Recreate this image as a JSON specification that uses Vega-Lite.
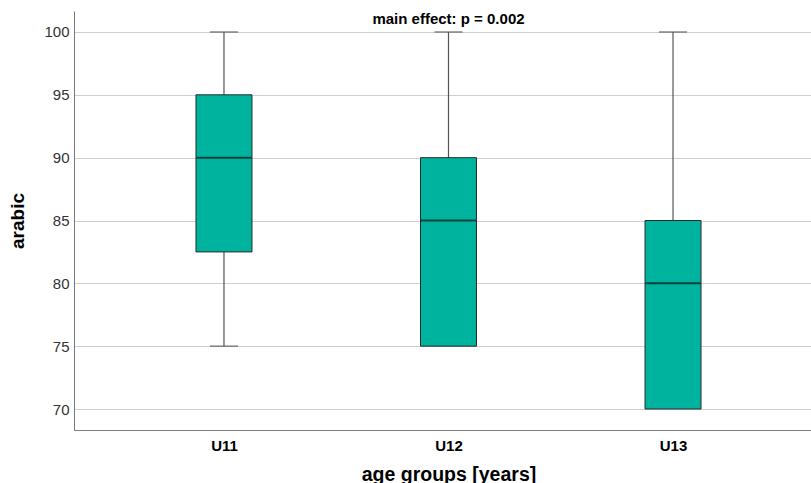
{
  "$schema": "https://vega.github.io/schema/vega-lite/v6.json",
  "autosize": "none",
  "width": 749,
  "height": 419,
  "padding": {"left": 74, "top": 11, "right": 0, "bottom": 53},
  "background": "white",
  "config": {
    "view": {"stroke": null},
    "font": "Liberation Sans"
  },
  "data": {
    "values": [
      {"group": "U11", "lower": 75, "q1": 82.5, "median": 90, "q3": 95, "upper": 100},
      {"group": "U12", "lower": 75, "q1": 75, "median": 85, "q3": 90, "upper": 100},
      {"group": "U13", "lower": 70, "q1": 70, "median": 80, "q3": 85, "upper": 100}
    ]
  },
  "encoding": {
    "x": {
      "field": "group", "type": "nominal",
      "scale": {"type": "point", "padding": 0.668},
      "axis": {
        "title": "age groups [years]",
        "titleFont": "Liberation Sans", "titleFontSize": 19.5, "titleFontWeight": "bold", "titleColor": "#000",
        "titlePadding": 12,
        "labelAngle": 0, "labelFont": "Liberation Sans", "labelFontSize": 15, "labelFontWeight": "bold", "labelColor": "#000",
        "labelPadding": 8,
        "ticks": false, "domain": true, "domainColor": "#808080", "domainWidth": 1, "grid": false
      }
    }
  },
  "layer": [
    {
      "mark": {"type": "rule", "color": "#555555", "strokeWidth": 1.2},
      "encoding": {
        "y": {
          "field": "lower", "type": "quantitative",
          "scale": {"domain": [68.33, 101.67], "nice": false, "zero": false},
          "axis": {
            "title": "arabic",
            "titleFont": "Liberation Sans", "titleFontSize": 19, "titleFontWeight": "bold", "titleColor": "#000",
            "titlePadding": 16,
            "values": [70, 75, 80, 85, 90, 95, 100],
            "labelFont": "Liberation Sans", "labelFontSize": 15, "labelColor": "#333", "labelPadding": 5,
            "ticks": false, "domainColor": "#777777", "domainWidth": 1,
            "grid": true, "gridColor": "#cfcfcf", "gridWidth": 1.2
          }
        },
        "y2": {"field": "upper"}
      }
    },
    {
      "mark": {"type": "bar", "size": 56, "fill": "#00B39E", "stroke": "#2a2a2a", "strokeWidth": 1},
      "encoding": {
        "y": {"field": "q1", "type": "quantitative"},
        "y2": {"field": "q3"}
      }
    },
    {
      "mark": {"type": "tick", "size": 28, "thickness": 1.5, "color": "#555555"},
      "encoding": {"y": {"field": "upper", "type": "quantitative"}}
    },
    {
      "transform": [{"filter": "datum.lower < datum.q1"}],
      "mark": {"type": "tick", "size": 28, "thickness": 1.5, "color": "#555555"},
      "encoding": {"y": {"field": "lower", "type": "quantitative"}}
    },
    {
      "mark": {"type": "tick", "size": 55, "thickness": 2, "color": "#111111"},
      "encoding": {"y": {"field": "median", "type": "quantitative"}}
    },
    {
      "data": {"values": [{"label": "main effect: p = 0.002", "group": "U12", "yv": 101.67}]},
      "mark": {"type": "text", "font": "Liberation Sans", "fontSize": 15, "fontWeight": "bold", "color": "#000", "baseline": "top", "dy": 1},
      "encoding": {
        "y": {"field": "yv", "type": "quantitative"},
        "text": {"field": "label"}
      }
    }
  ]
}
